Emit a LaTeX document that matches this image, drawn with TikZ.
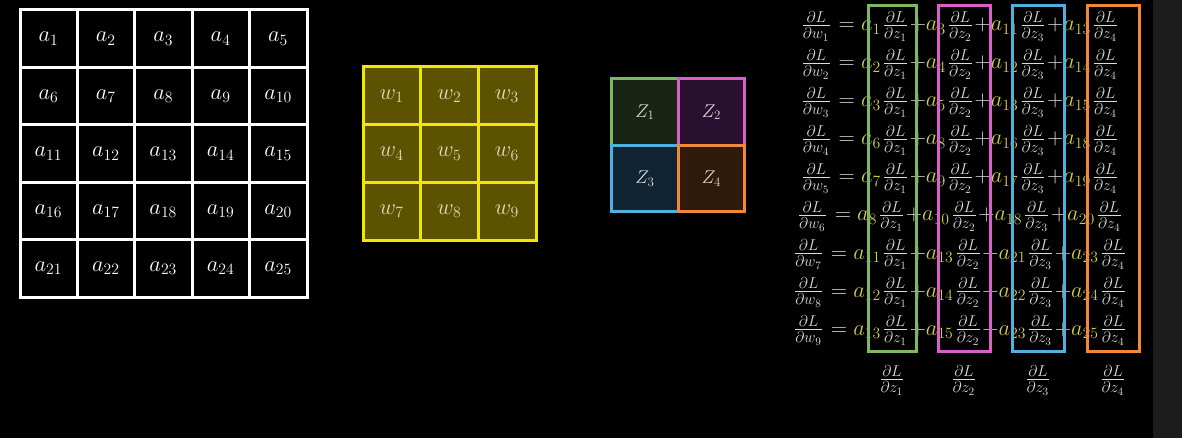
\RequirePackage{fix-cm}
\documentclass[tikz,border=0pt]{standalone}
\definecolor{bgc}{HTML}{000000}
\definecolor{stripc}{HTML}{1C1C1C}
\definecolor{txt}{HTML}{DCDCDC}
\definecolor{ayel}{HTML}{D2CC50}
\definecolor{wfill}{HTML}{5C5200}
\definecolor{wline}{HTML}{F0E800}
\definecolor{wtxt}{HTML}{E0DCC0}
\definecolor{zgreen}{HTML}{80B860}
\definecolor{zmag}{HTML}{D860C8}
\definecolor{zblue}{HTML}{50B0E0}
\definecolor{zorange}{HTML}{F08838}
\definecolor{zgreenf}{HTML}{1A2414}
\definecolor{zmagf}{HTML}{2A1030}
\definecolor{zbluef}{HTML}{102434}
\definecolor{zorangef}{HTML}{301A0A}
\newcommand{\ay}[1]{{\color{ayel}#1}}
\medmuskip=0mu
\nulldelimiterspace=2.7pt
\scriptspace=1.1pt
\begin{document}
\begin{tikzpicture}[x=1pt,y=-1pt,
  bigfont/.style={font=\fontsize{22.5}{27}\selectfont},
  acell/.style={draw=white,line width=3pt,minimum size=57.4pt,inner sep=0pt,text=white,bigfont},
  wcell/.style={draw=wline,fill=wfill,line width=3pt,minimum size=57.7pt,inner sep=0pt,text=wtxt,bigfont},
  zcell/.style={line width=3pt,minimum size=66.5pt,inner sep=0pt,text=txt,font=\fontsize{18.5}{22}\selectfont},
  eq/.style={inner sep=0pt,text=txt,anchor=base,bigfont},
  colbox/.style={line width=3pt}]
\fill[bgc] (0,0) rectangle (1182,438);
\fill[stripc] (1153,0) rectangle (1182,438);
\useasboundingbox (0,0) rectangle (1182,438);
% input grid a
\foreach \r in {0,...,4} {
  \foreach \c in {0,...,4} {
    \pgfmathtruncatemacro\n{5*\r+\c+1}
    \node[acell] (a\n) at ({48.7+57.4*\c},{38.7+57.4*\r}) {$a_{\n}$};
  }
}
% kernel grid w
\foreach \r in {0,...,2} {
  \foreach \c in {0,...,2} {
    \pgfmathtruncatemacro\n{3*\r+\c+1}
    \node[wcell] (w\n) at ({391.85+57.7*\c},{95.85+57.7*\r}) {$w_{\n}$};
  }
}
% output grid Z
\node[zcell,draw=zgreen,fill=zgreenf] (z1) at (645.2,112.2) {$Z_1$};
\node[zcell,draw=zmag,fill=zmagf] (z2) at (711.7,112.2) {$Z_2$};
\node[zcell,draw=zblue,fill=zbluef] (z3) at (645.2,178.7) {$Z_3$};
\node[zcell,draw=zorange,fill=zorangef] (z4) at (711.7,178.7) {$Z_4$};
% equations
\foreach \i/\p/\q/\s/\t in {1/1/3/11/13,2/2/4/12/14,3/3/5/13/15,4/6/8/16/18,5/7/9/17/19,6/8/10/18/20,7/11/13/21/23,8/12/14/22/24,9/13/15/23/25} {
  \node[eq] (eq\i) at (960,{31+38*(\i-1)})
    {$\frac{\partial L}{\partial w_{\i}} = \ay{a_{\p}}\frac{\partial L}{\partial z_1}+\ay{a_{\q}}\frac{\partial L}{\partial z_2}+\ay{a_{\s}}\frac{\partial L}{\partial z_3}+\ay{a_{\t}}\frac{\partial L}{\partial z_4}$};
}
% column boxes
\draw[colbox,zgreen] (868,5.5) rectangle (916,351.5);
\draw[colbox,zmag] (938,5.5) rectangle (990,351.5);
\draw[colbox,zblue] (1012,5.5) rectangle (1064,351.5);
\draw[colbox,zorange] (1087,5.5) rectangle (1139,351.5);
% bottom labels
\node[eq] (g1) at (892,385) {$\frac{\partial L}{\partial z_1}$};
\node[eq] (g2) at (964,385) {$\frac{\partial L}{\partial z_2}$};
\node[eq] (g3) at (1038,385) {$\frac{\partial L}{\partial z_3}$};
\node[eq] (g4) at (1113,385) {$\frac{\partial L}{\partial z_4}$};
\end{tikzpicture}
\end{document}
